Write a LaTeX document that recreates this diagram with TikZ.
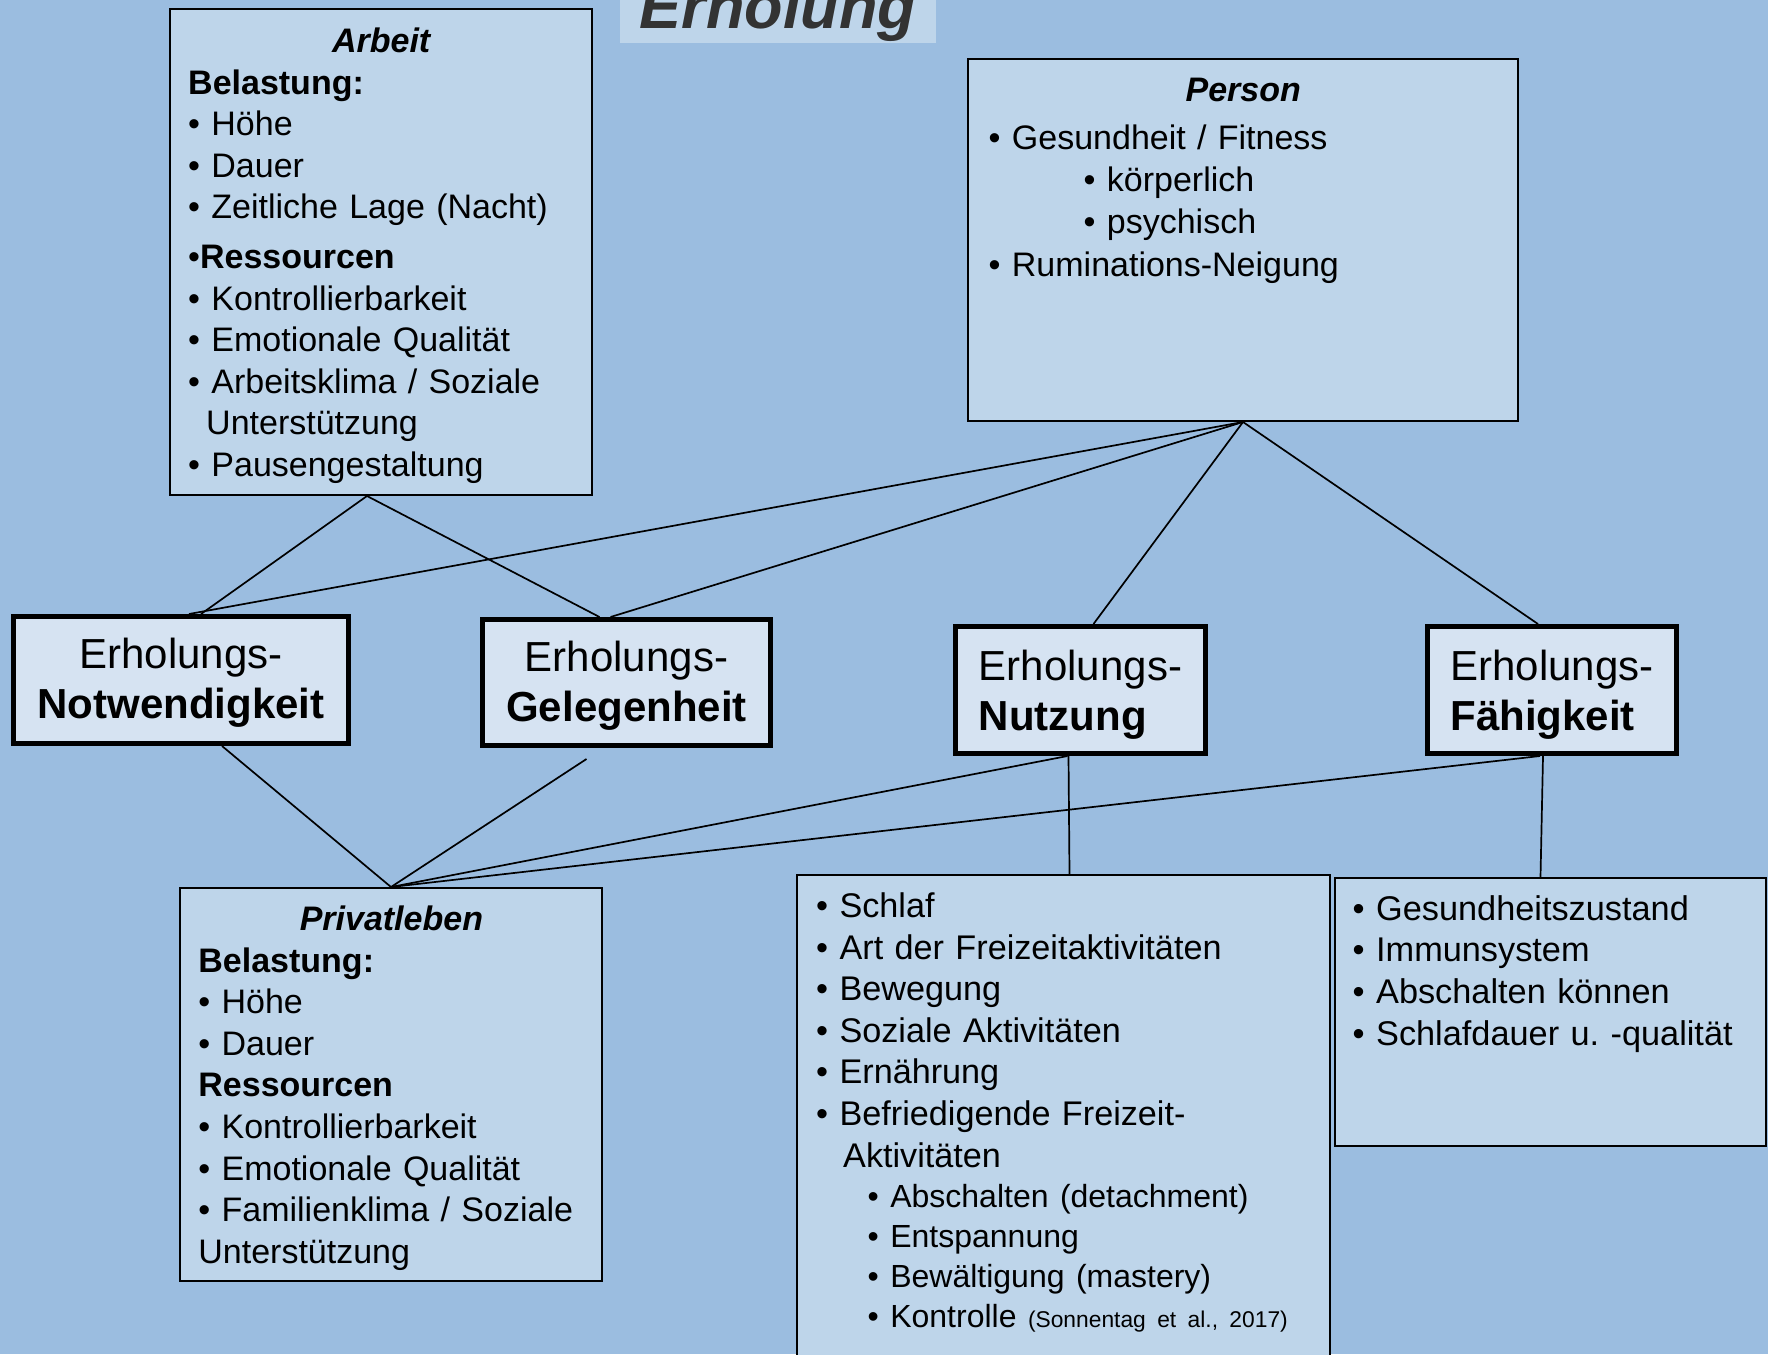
\documentclass[tikz,border=0pt]{standalone}
\usepackage{fontspec}
\setmainfont{Liberation Sans}
\usetikzlibrary{calc}
\definecolor{bgblue}{RGB}{155,189,224}
\definecolor{boxblue}{RGB}{190,213,234}
\definecolor{keyblue}{RGB}{214,227,242}
\definecolor{titlegray}{RGB}{51,51,51}
\tikzset{
  infobox/.style={draw=black, line width=2pt, fill=boxblue, anchor=north west, inner sep=0pt},
  keybox/.style={draw=black, line width=5pt, fill=keyblue, inner sep=0pt, font=\fontsize{42}{50}\selectfont},
  txt/.style={anchor=north west, inner sep=0pt, align=left, font=\fontsize{34}{41.5}\selectfont},
  link/.style={line width=1.7pt}
}
\begin{document}
\frenchspacing
\begin{tikzpicture}[x=1pt, y=-1pt]
    \useasboundingbox (0,0) rectangle (1768,1354);
    \clip (0,0) rectangle (1768,1354);
    \fill[bgblue] (0,0) rectangle (1768,1354);

    % Title
    \node[fill=boxblue, text=titlegray, font=\fontsize{63}{70}\selectfont\bfseries\itshape,
          inner xsep=19.5pt, inner ysep=1.3pt, anchor=base] (title) at (778,29) {Erholung};

    % Boxes with lists
    \node[infobox, minimum width=422pt, minimum height=486pt] (arbeit) at (169,8) {};
    \node[infobox, minimum width=550pt, minimum height=362pt] (person) at (967,58) {};
    \node[infobox, minimum width=422pt, minimum height=393pt] (privat) at (179,887) {};
    \node[infobox, minimum width=533pt, minimum height=510pt] (nutzdet) at (796,874) {};
    \node[infobox, minimum width=431pt, minimum height=268pt] (faehdet) at (1334,877) {};

    \node[txt, text width=386pt] (arbeittxt) at (188,27.7) {\makebox[\hsize]{\bfseries\itshape Arbeit}\\
        \textbf{Belastung:}\\
        • Höhe\\
        • Dauer\\
        • Zeitliche Lage (Nacht)\\[8.5pt]
        •\textbf{Ressourcen}\\
        • Kontrollierbarkeit\\
        • Emotionale Qualität\\
        • Arbeitsklima / Soziale\\
        \hspace*{18pt}Unterstützung\\
        • Pausengestaltung};

    \node[txt, text width=509pt, font=\fontsize{34}{42.3}\selectfont] (persontxt) at (988.5,77.7) {\makebox[\hsize]{\bfseries\itshape Person}\\[5.7pt]
        • Gesundheit / Fitness\\
        \hspace*{95pt}• körperlich\\
        \hspace*{95pt}• psychisch\\
        • Ruminations-Neigung};

    \node[txt, text width=386pt, font=\fontsize{34}{41.6}\selectfont] (privattxt) at (198.2,905.7) {\makebox[\hsize]{\bfseries\itshape Privatleben}\\
        \textbf{Belastung:}\\
        • Höhe\\
        • Dauer\\
        \textbf{Ressourcen}\\
        • Kontrollierbarkeit\\
        • Emotionale Qualität\\
        • Familienklima / Soziale\\
        Unterstützung};

    \node[txt, text width=500pt, font=\fontsize{34.2}{41.6}\selectfont] (nutztxt) at (816,892.5) {• Schlaf\\
        • Art der Freizeitaktivitäten\\
        • Bewegung\\
        • Soziale Aktivitäten\\
        • Ernährung\\
        • Befriedigende Freizeit-\\
        \hspace*{27pt}Aktivitäten\\[-1.5pt]
        {\fontsize{32}{39}\selectfont\hspace*{51.5pt}• Abschalten (detachment)}\\[-1.5pt]
        {\fontsize{32}{39}\selectfont\hspace*{51.5pt}• Entspannung}\\[-1.5pt]
        {\fontsize{32}{39}\selectfont\hspace*{51.5pt}• Bewältigung (mastery)}\\[-1.5pt]
        {\fontsize{32}{39}\selectfont\hspace*{51.5pt}• Kontrolle {\fontsize{22.8}{28}\selectfont(Sonnentag et al., 2017)}}};

    \node[txt, text width=400pt, font=\fontsize{34.3}{41.7}\selectfont] (faehtxt) at (1352.5,895) {• Gesundheitszustand\\
        • Immunsystem\\
        • Abschalten können\\
        • Schlafdauer u. -qualität};

    % Key boxes
    \node[keybox, minimum width=335pt, minimum height=127pt, align=center] (notw) at (181,680) {\rule{0pt}{36pt}Erholungs-\\\textbf{Notwendigkeit}};
    \node[keybox, minimum width=288pt, minimum height=126pt, align=center] (geleg) at (626.5,682.5) {\rule{0pt}{36pt}Erholungs-\\\textbf{Gelegenheit}};
    \node[keybox, minimum width=250pt, minimum height=127pt, align=left] (nutz) at (1080.5,690) {\rule{0pt}{40pt}Erholungs-\\\textbf{Nutzung}};
    \node[keybox, minimum width=249pt, minimum height=127pt, align=left] (faehig) at (1552,690) {\rule{0pt}{40pt}Erholungs-\\\textbf{Fähigkeit}};

    % Lines from above
    \draw[link] ($(arbeit.south)+(-14,0)$) -- ($(notw.north)+(20,0)$);
    \draw[link] ($(arbeit.south)+(-14,0)$) -- ($(geleg.north)+(-27,0)$);
    \draw[link] (person.south) -- ($(notw.north)+(8,0)$);
    \draw[link] (person.south) -- ($(geleg.north)+(-16,0)$);
    \draw[link] (person.south) -- ($(nutz.north)+(13,0)$);
    \draw[link] (person.south) -- ($(faehig.north)+(-14,0)$);

    % Lines below
    \draw[link] ($(notw.south)+(41,0)$) -- (privat.north);
    \draw[link] ($(geleg.south)+(-40,11)$) -- (privat.north);
    \draw[link] ($(nutz.south)+(-13,0)$) -- (privat.north);
    \draw[link] ($(faehig.south)+(-12,0)$) -- (privat.north);
    \draw[link] ($(nutz.south)+(-12,0)$) -- ($(nutzdet.north)+(6,0)$);
    \draw[link] ($(faehig.south)+(-9,0)$) -- ($(faehdet.north)+(-10,0)$);
\end{tikzpicture}
\end{document}
